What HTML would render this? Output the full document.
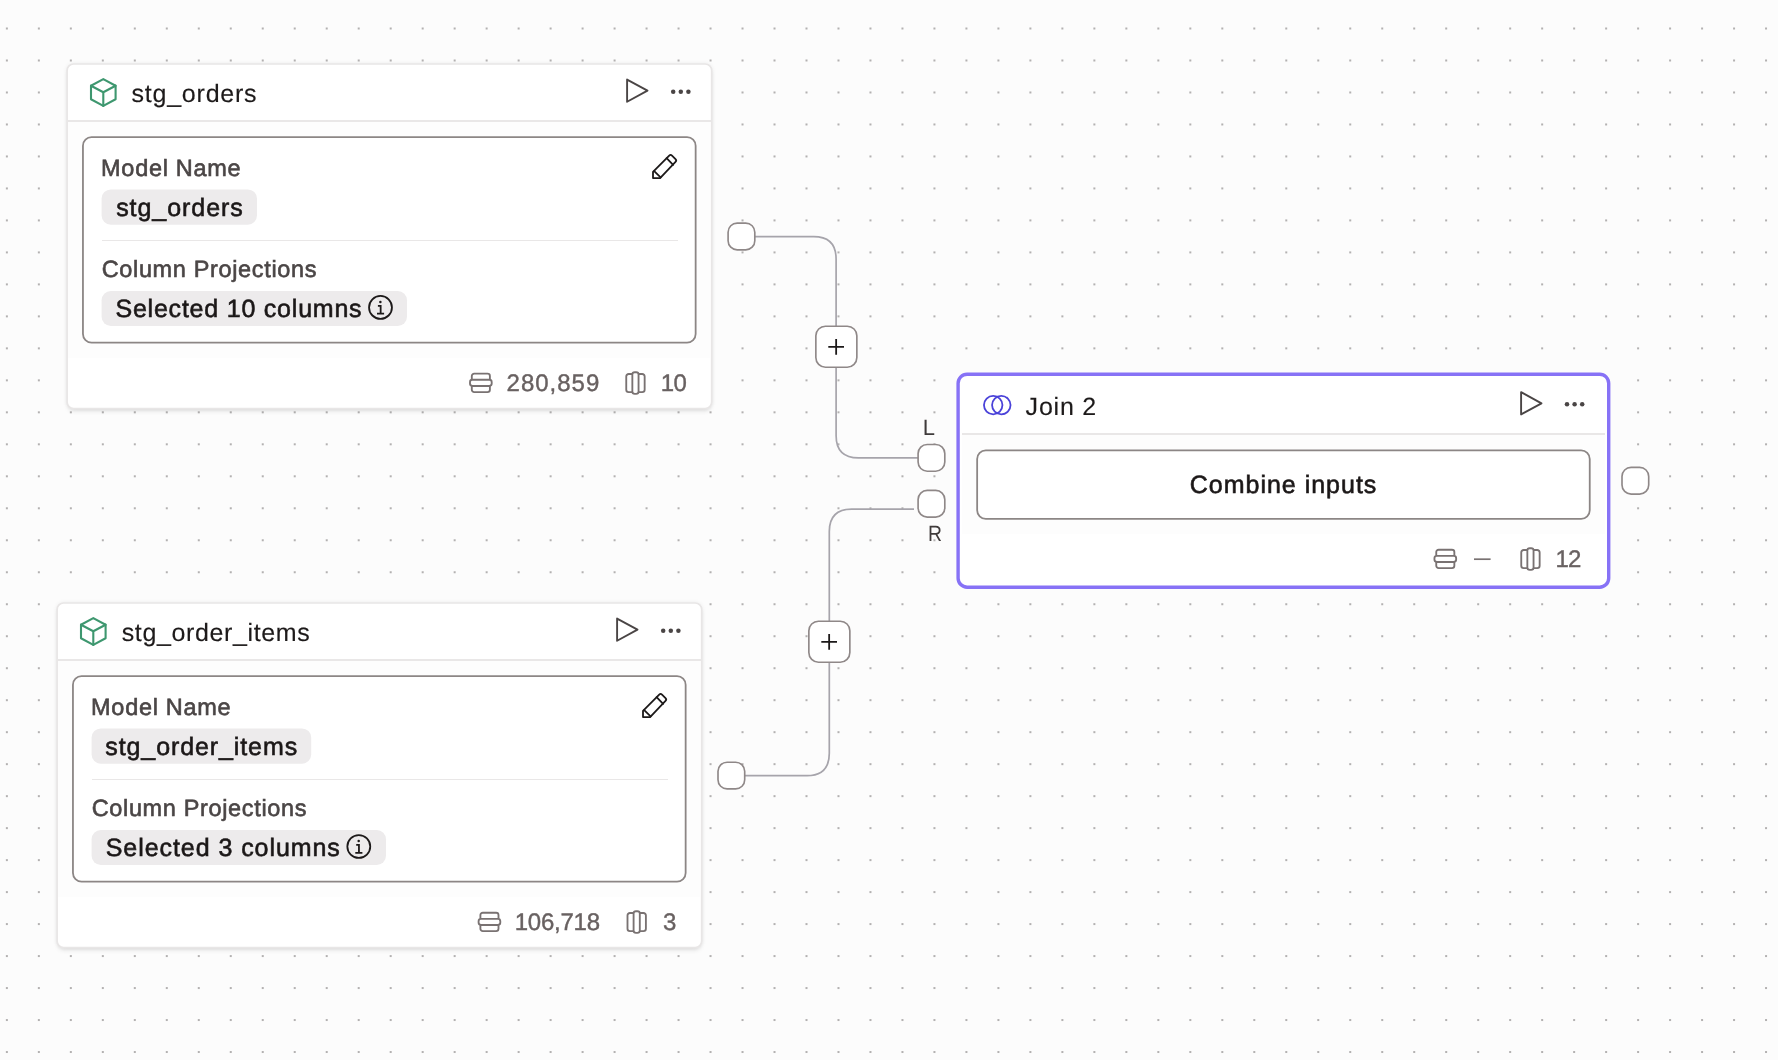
<!DOCTYPE html>
<html>
<head>
<meta charset="utf-8">
<title>Canvas</title>
<style>
*{box-sizing:border-box;margin:0;padding:0}
html,body{width:1778px;height:1060px;overflow:hidden}
body{position:relative;background-color:#fcfcfc;font-family:"Liberation Sans",sans-serif}
.abs{position:absolute}
.grp{position:absolute;left:0;top:0;width:0;height:0}
.card{position:absolute;background:#fff;border-radius:7px;
  box-shadow:0 3px 5px -1px rgba(0,0,0,.11),0 0 5px rgba(0,0,0,.09)}
.band{position:absolute;background:#fdfdfd}
.sep{position:absolute;background:#e9e7e7}
.inner{position:absolute;background:#fff;border-radius:9px}
.t{position:absolute;white-space:nowrap;line-height:1;z-index:5;text-rendering:geometricPrecision}
.title{font-size:25px;color:#1d1a1a;-webkit-text-stroke:.15px #1d1a1a}
.label{font-size:23.5px;color:#4b4646;-webkit-text-stroke:.6px #4b4646}
.chiptxt{font-size:25px;color:#1b1717;-webkit-text-stroke:.6px #1b1717}
.foot{font-size:24px;color:#686161;-webkit-text-stroke:.4px #686161}
.hl{font-size:22px;color:#3f3b3b}
svg{position:absolute;left:0;top:0;overflow:visible}
</style>
</head>
<body>
<div id="root" style="position:absolute;left:0;top:0;width:1778px;height:1060px;will-change:transform">

<!-- dot grid -->
<svg width="1778" height="1060" viewBox="0 0 1778 1060">
  <defs><pattern id="dots" x="-9.12" y="12.51" width="31.985" height="31.985" patternUnits="userSpaceOnUse"><circle cx="15.9925" cy="15.9925" r="0.8" fill="#555151"/></pattern></defs>
  <rect width="1778" height="1060" fill="url(#dots)"/>
</svg>

<!-- edges -->
<svg width="1778" height="1060" viewBox="0 0 1778 1060" fill="none">
  <path d="M755 236.6 H813.7 Q836.1 236.6 836.1 259 V435.5 Q836.1 457.9 858.5 457.9 H918" stroke="#a6a4ab" stroke-width="1.7"/>
  <path d="M745 775.7 H806.9 Q829.3 775.7 829.3 753.3 V531.5 Q829.3 509.1 851.7 509.1 H914" stroke="#a6a4ab" stroke-width="1.7"/>
</svg>

<!-- ============ NODE 1 : stg_orders ============ -->
<div class="grp" id="n1">
  <div class="card" style="left:67px;top:64px;width:645px;height:345px"></div>
  <svg width="800" height="420" viewBox="0 0 800 420" fill="none"><rect x="67.1" y="64" width="644.6" height="344.6" rx="6.5" stroke="#e8e6e6" stroke-width="1.7"/></svg>
  <div class="band" style="left:68px;top:122px;width:642px;height:236px"></div>
  <div class="sep" style="left:68px;top:120px;width:643px;height:2px"></div>
  <div class="inner" style="left:82px;top:136.5px;width:614.5px;height:207px"></div>
  <div class="sep" style="left:101.5px;top:239.8px;width:576px;height:1.2px"></div>
  <svg width="800" height="420" viewBox="0 0 800 420"><g fill="#edebec"><rect x="101.6" y="189.4" width="155.4" height="35.4" rx="9.2"/><rect x="101.6" y="291" width="305.4" height="34.9" rx="9.2"/></g></svg>
  <div class="t title" style="left:131.55px;top:82.40px;letter-spacing:0.768px">stg_orders</div>
  <div class="t label" style="left:101.12px;top:157.30px;letter-spacing:0.686px">Model Name</div>
  <div class="t chiptxt" style="left:116.13px;top:196.30px;letter-spacing:0.957px">stg_orders</div>
  <div class="t label" style="left:101.71px;top:258.30px;letter-spacing:0.646px">Column Projections</div>
  <div class="t chiptxt" style="left:115.45px;top:297.30px;letter-spacing:0.783px">Selected 10 columns</div>
  <div class="t foot" style="left:506.54px;top:371.60px;letter-spacing:1.006px">280,859</div>
  <div class="t foot" style="left:660.68px;top:371.60px;letter-spacing:-0.459px">10</div>
</div>

<!-- ============ NODE 2 : stg_order_items ============ -->
<div class="grp" id="n2" style="transform:translate(-10px,539px)">
  <div class="card" style="left:67px;top:64px;width:645px;height:345px"></div>
  <svg width="800" height="420" viewBox="0 0 800 420" fill="none"><rect x="67.1" y="64" width="644.6" height="344.6" rx="6.5" stroke="#e8e6e6" stroke-width="1.7"/></svg>
  <div class="band" style="left:68px;top:122px;width:642px;height:236px"></div>
  <div class="sep" style="left:68px;top:120px;width:643px;height:2px"></div>
  <div class="inner" style="left:82px;top:136.5px;width:614.5px;height:207px"></div>
  <div class="sep" style="left:101.5px;top:239.8px;width:576px;height:1.2px"></div>
  <svg width="800" height="420" viewBox="0 0 800 420"><g fill="#edebec"><rect x="101.6" y="189.4" width="219.6" height="35.4" rx="9.2"/><rect x="101.6" y="291" width="294.4" height="34.9" rx="9.2"/></g></svg>
  <div class="t title" style="left:131.67px;top:82.40px;letter-spacing:0.637px">stg_order_items</div>
  <div class="t label" style="left:101.12px;top:157.30px;letter-spacing:0.686px">Model Name</div>
  <div class="t chiptxt" style="left:115.33px;top:196.30px;letter-spacing:0.898px">stg_order_items</div>
  <div class="t label" style="left:101.71px;top:258.30px;letter-spacing:0.646px">Column Projections</div>
  <div class="t chiptxt" style="left:115.71px;top:297.30px;letter-spacing:0.940px">Selected 3 columns</div>
  <div class="t foot" style="left:524.73px;top:371.60px;letter-spacing:-0.248px">106,718</div>
  <div class="t foot" style="left:672.90px;top:371.60px">3</div>
</div>

<!-- ============ NODE 3 : Join 2 ============ -->
<div class="grp" id="n3">
  <div class="abs" style="left:957px;top:373px;width:653px;height:215.5px;border-radius:10px;background:#fff"></div>
  <div class="band" style="left:962px;top:435px;width:643px;height:99px"></div>
  <div class="sep" style="left:962px;top:433px;width:643px;height:2px"></div>
  <div class="inner" style="left:976.5px;top:449.5px;width:614px;height:70px"></div>
  <div class="t title" style="left:1025.61px;top:394.50px;letter-spacing:0.785px">Join 2</div>
  <div class="t chiptxt" style="left:1189.74px;top:473.30px;letter-spacing:0.993px">Combine inputs</div>
  <div class="t foot" style="left:1555.41px;top:547.60px;letter-spacing:-0.813px">12</div>
</div>


<!-- handles / plus buttons -->
<div class="t hl" style="left:922.85px;top:416.60px">L</div>
<div class="t hl" style="left:927.80px;top:522.60px;transform:scaleX(.88);transform-origin:0 0">R</div>

<!-- icons -->
<svg id="icons" style="z-index:6" width="1778" height="1060" viewBox="0 0 1778 1060" fill="none">
  <defs>
    <!-- cube centred at 0,0 -->
    <g id="i-cube" stroke="#3e976f" stroke-width="2.1" stroke-linejoin="round" stroke-linecap="round">
      <path d="M0 -13.4 L12.3 -6.8 V6.8 L0 13.4 L-12.3 6.8 V-6.8 Z"/>
      <path d="M-12.3 -6.8 L0 -0.2 L12.3 -6.8 M0 -0.2 V13.4"/>
    </g>
    <!-- play triangle centred on its vertical middle, left edge at x=0 -->
    <g id="i-play" stroke="#4a4545" stroke-width="1.9" stroke-linejoin="round">
      <path d="M0 -11.1 L20.4 0 L0 11.1 Z"/>
    </g>
    <g id="i-dots" fill="#4a4545">
      <circle cx="-7.6" cy="0" r="2.25"/><circle cx="0" cy="0" r="2.25"/><circle cx="7.6" cy="0" r="2.25"/>
    </g>
    <!-- pencil, origin = tip corner (bottom-left) -->
    <g id="i-pencil" stroke="#1c1919" stroke-width="1.8" stroke-linejoin="round" stroke-linecap="round">
      <path d="M0 0 V-6.3 L16.2 -22.5 Q17.6 -23.9 19 -22.5 L22.5 -19 Q23.9 -17.6 22.5 -16.2 L7.1 0 Z"/>
      <path d="M13.6 -19.9 L20.1 -13.3"/>
      <path d="M1.2 -6.9 L7.6 -0.7"/>
    </g>
    <!-- info, centre 0,0 -->
    <g id="i-info" stroke="#1c1919" stroke-width="1.8" stroke-linecap="butt">
      <circle cx="0" cy="0" r="11.45"/>
      <path d="M-2.6 -1.6 H0.15 V6.3 M-3.5 6.3 H3.6"/>
      <circle cx="-0.1" cy="-5.5" r="1.25" fill="#1c1919" stroke="none"/>
    </g>
    <!-- rows, centre 0,0 -->
    <g id="i-rows" stroke="#797272" stroke-width="1.85" stroke-linejoin="round">
      <rect x="-10.85" y="-3.1" width="21.7" height="6.2" rx="2.4"/>
      <path d="M-9.05 -3.1 V-6.8 a2.4 2.4 0 0 1 2.4 -2.4 H6.65 a2.4 2.4 0 0 1 2.4 2.4 V-3.1"/>
      <path d="M-9.05 3.1 V6.8 a2.4 2.4 0 0 0 2.4 2.4 H6.65 a2.4 2.4 0 0 0 2.4 -2.4 V3.1"/>
    </g>
    <!-- node-1 icon set (absolute page coords) -->
    <g id="n1-icons">
      <use href="#i-cube" x="103.3" y="92.5"/>
      <use href="#i-play" x="627.1" y="90.65"/>
      <use href="#i-dots" x="680.8" y="91.8"/>
      <use href="#i-pencil" x="653" y="178.1"/>
    </g>
  </defs>

  <!-- stroked shapes -->
  <g stroke="#8c8685" stroke-width="1.8">
    <rect x="82.95" y="137.05" width="612.7" height="205.6" rx="8.6"/>
    <rect x="72.95" y="676.05" width="612.7" height="205.6" rx="8.6"/>
    <rect x="977.15" y="450.45" width="612.6" height="68.5" rx="8.6"/>
  </g>
  <rect x="958.1" y="374.2" width="650.6" height="213" rx="9" stroke="#8772f6" stroke-width="3.4"/>
  <g stroke="#8f8888" stroke-width="1.65" fill="#fff">
    <rect x="728.1" y="223.1" width="26.7" height="26.7" rx="9.1"/>
    <rect x="718" y="762.2" width="26.7" height="26.7" rx="9.1"/>
    <rect x="918.1" y="444.5" width="26.7" height="26.7" rx="9.1"/>
    <rect x="918.1" y="490.4" width="26.7" height="26.7" rx="9.1"/>
    <rect x="1622" y="467.35" width="26.7" height="26.7" rx="9.1"/>
  </g>
  <g stroke="#8f8888" stroke-width="1.65" fill="#fff">
    <rect x="815.85" y="326.2" width="41" height="41" rx="9.6"/>
    <rect x="808.85" y="621.2" width="41" height="41" rx="9.6"/>
  </g>
  <use href="#n1-icons"/>
  <use href="#i-info" x="380.5" y="307.4"/>
  <use href="#i-rows" x="480.85" y="382.9"/>
  <use href="#i-rows" transform="translate(635.45 383.07) rotate(90)"/>

  <g transform="translate(-10 539)">
    <use href="#n1-icons"/>
    <use href="#i-info" x="368.8" y="307.5"/>
    <use href="#i-rows" x="499.45" y="382.9"/>
    <use href="#i-rows" transform="translate(646.7 383.07) rotate(90)"/>
  </g>

  <!-- join node icons -->
  <g stroke="#4a42d9" stroke-width="1.8">
    <circle cx="993.2" cy="405.1" r="9.25"/><circle cx="1001.3" cy="405.1" r="9.25"/>
  </g>
  <use href="#i-play" x="1521.1" y="403.3"/>
  <use href="#i-dots" x="1574.6" y="404.2"/>
  <use href="#i-rows" x="1445.3" y="558.9"/>
  <use href="#i-rows" transform="translate(1530.45 559.07) rotate(90)"/>
  <path d="M1474 559.2 H1490.6" stroke="#797272" stroke-width="1.7"/>

  <!-- plus glyphs -->
  <g stroke="#1c1919" stroke-width="1.8">
    <path d="M828.3 346.9 H844 M836.15 339.05 V354.75"/>
    <path d="M821.3 641.9 H837 M829.15 634.05 V649.75"/>
  </g>
</svg>

</div>
</body>
</html>
